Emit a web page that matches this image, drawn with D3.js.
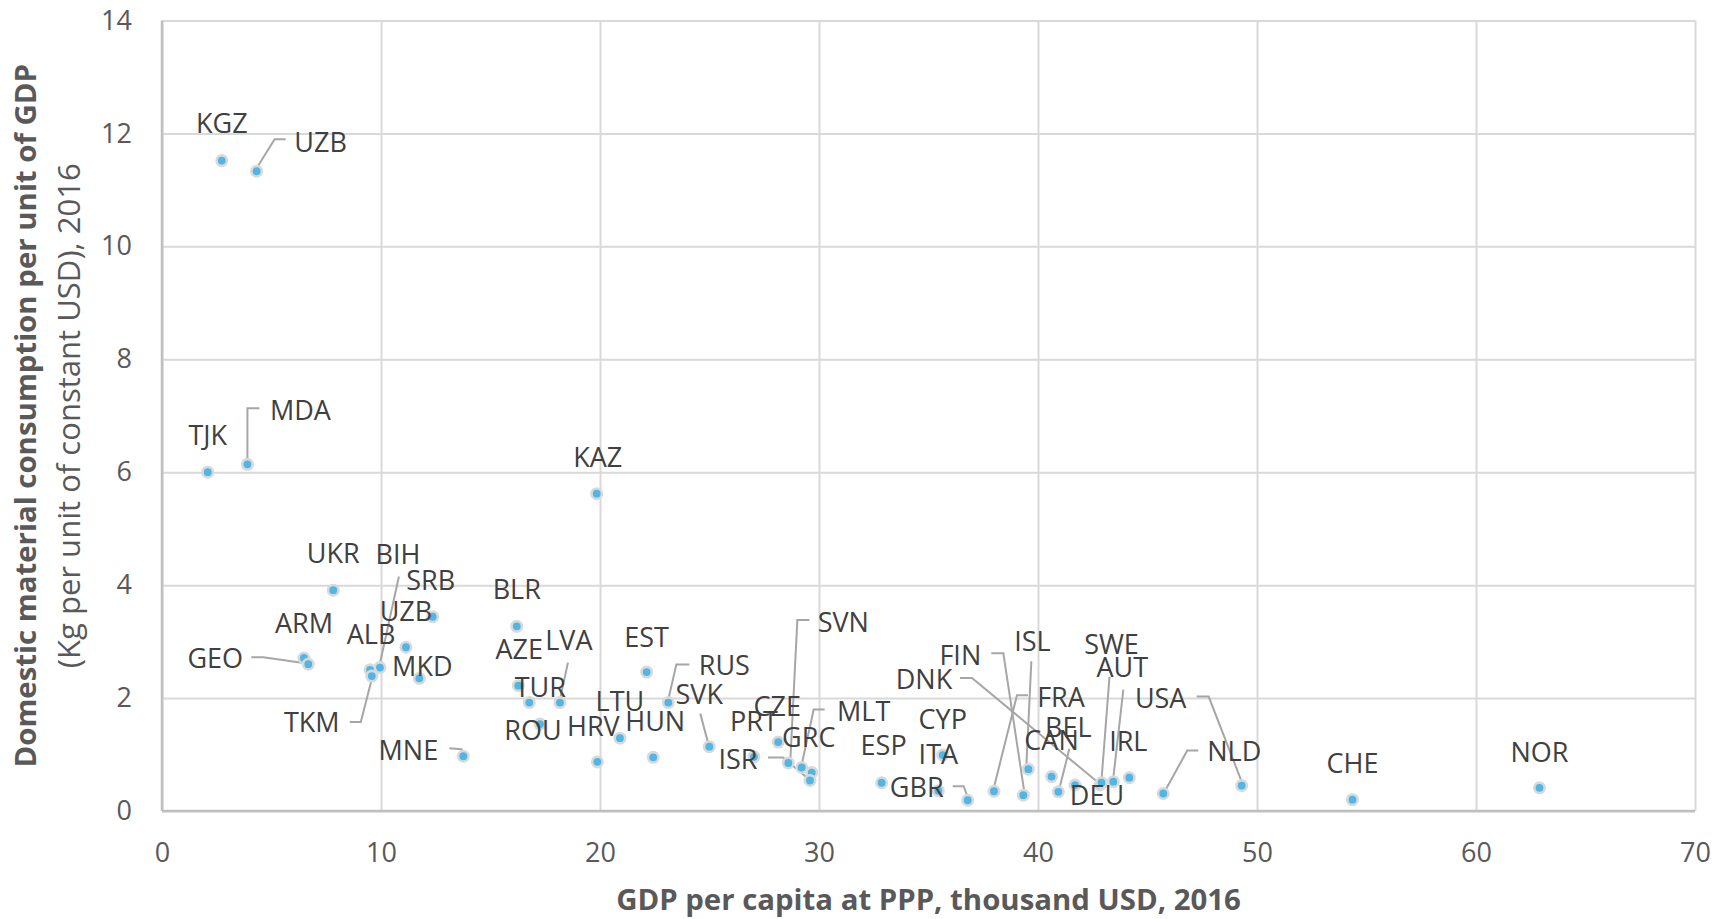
<!DOCTYPE html>
<html><head><meta charset="utf-8">
<script src="https://cdn.jsdelivr.net/npm/d3@7/dist/d3.min.js"></script>
<style>
body{margin:0;background:#fff;}
svg text{font-family:"Open Sans","DejaVu Sans",sans-serif;}
</style>
</head><body>
<svg id="chart" width="1726" height="919"></svg>
<script>
// ---------------- data ----------------
const countries = ["KGZ","UZB","TJK","MDA","KAZ","UKR","BIH","SRB","UZB","ARM","ALB","GEO","MKD","TKM","MNE","BLR","AZE","LVA","TUR","ROU","EST","LTU","HRV","HUN","RUS","SVK","CZE","PRT","SVN","MLT","GRC","ISR","ESP","CYP","ITA","GBR","FIN","DNK","ISL","FRA","CAN","BEL","DEU","SWE","AUT","IRL","USA","NLD","CHE","NOR"];
// GDP per capita at PPP, thousand USD, 2016
const gdpPerCapita = [2.73,4.32,2.09,3.90,19.85,7.82,9.95,12.36,11.14,6.48,9.50,6.68,11.75,9.58,13.76,16.20,16.27,18.17,16.77,17.26,22.13,20.91,19.88,22.43,23.12,24.99,28.14,27.03,28.60,29.21,29.67,29.59,32.86,35.65,35.45,36.79,39.33,42.83,39.56,37.99,40.62,40.93,41.69,42.90,43.44,44.17,49.30,45.72,54.36,62.90];
// Domestic material consumption per unit of GDP (kg per USD), 2016
const dmcPerGdp = [11.52,11.33,6.00,6.14,5.62,3.91,2.54,3.44,2.90,2.71,2.50,2.60,2.35,2.39,0.97,3.27,2.22,1.92,1.92,1.54,2.46,1.29,0.87,0.95,1.92,1.14,1.22,0.96,0.85,0.77,0.68,0.54,0.50,0.99,0.36,0.19,0.28,0.46,0.74,0.35,0.61,0.34,0.46,0.50,0.52,0.59,0.45,0.31,0.20,0.41];
const xTicks = [0,10,20,30,40,50,60,70];
const yTicks = [0,2,4,6,8,10,12,14];
const xTitle = "GDP per capita at PPP, thousand USD, 2016";
const yTitle1 = "Domestic material consumption per unit of GDP";
const yTitle2 = "(Kg per unit of constant USD), 2016";

// ---------------- label layout (pixel offsets from each point) ----------------
const labelLayout = [
 {d:[0,-37]},
 {d:[64,-29], lead:[[29,-32],[18,-32],[0,-3]]},
 {d:[0,-37]},
 {d:[53,-54], lead:[[12,-56],[0,-56],[0,-4]]},
 {d:[1,-36]},
 {d:[0,-37]},
 {d:[18,-113], lead:[[19,-91],[0,-4]]},
 {d:[-2,-36]},
 {d:[0,-36]},
 {d:[0,-35]},
 {d:[1,-36]},
 {d:[-93,-6], lead:[[-57,-7],[-45,-7],[-3,-1]]},
 {d:[3,-12]},
 {d:[-60,46], lead:[[-22,46],[-11,46],[0,3]]},
 {d:[-55,-6], lead:[[-14,-8],[-2,-7],[0,-3]]},
 {d:[0,-37]},
 {d:[1,-36]},
 {d:[9,-62], lead:[[8,-40],[0,-3]]},
 {d:[11,-15]},
 {d:[-7,6]},
 {d:[0,-35]},
 {d:[0,-37]},
 {d:[-4,-36]},
 {d:[2,-36]},
 {d:[56,-37], lead:[[21,-38],[8,-38],[0,-3]]},
 {d:[-10,-52], lead:[[-9,-33],[-1,-3]]},
 {d:[-1,-36]},
 {d:[0,-36]},
 {d:[55,-141], lead:[[21,-143],[9,-143],[2,-3]]},
 {d:[62,-56], lead:[[23,-58],[12,-58],[0,-3]]},
 {d:[-3,-35]},
 {d:[-72,-21], lead:[[-42,-23],[-27,-23],[-2,-2]]},
 {d:[2,-37]},
 {d:[0,-36]},
 {d:[0,-36]},
 {d:[-51,-13], lead:[[-15,-14],[-4,-14],[0,-3]]},
 {d:[-63,-140], lead:[[-32,-142],[-20,-142],[1,-3]]},
 {d:[-176,-106], lead:[[-140,-107],[-128,-107],[0,-1]]},
 {d:[4,-128], lead:[[3,-108],[-2,-4]]},
 {d:[67,-94], lead:[[34,-96],[23,-96],[0,-4]]},
 {d:[0,-36]},
 {d:[10,-65], lead:[[11,-43],[1,-3]]},
 {d:[22,10]},
 {d:[10,-138], lead:[[8,-106],[0,-3]]},
 {d:[9,-114], lead:[[10,-92],[0,-4]]},
 {d:[-1,-36]},
 {d:[-81,-87], lead:[[-45,-89],[-33,-89],[0,-4]]},
 {d:[71,-42], lead:[[35,-43],[24,-43],[2,-3]]},
 {d:[0,-36]},
 {d:[0,-36]}
];

// ---------------- chart ----------------
const W = 1726, H = 919;
const margin = {left:162, right:31, top:20.5, bottom:108};
const pw = W - margin.left - margin.right;
const ph = H - margin.top - margin.bottom;

const svg = d3.select("#chart");
const g = svg.append("g").attr("transform", `translate(${margin.left},${margin.top})`);

const x = d3.scaleLinear().domain([0,70]).range([0,pw]);
const y = d3.scaleLinear().domain([0,14]).range([ph,0]);

const gridColor = "#d9d9d9";
const tickColor = "#595959";

// y axis + horizontal gridlines
const yAxisG = g.append("g")
  .call(d3.axisLeft(y).tickValues(yTicks).tickSize(-pw).tickPadding(30).tickFormat(d3.format("d")));
yAxisG.select(".domain").remove();
yAxisG.selectAll(".tick line").attr("stroke", gridColor).attr("stroke-width", 2);
yAxisG.selectAll(".tick text").attr("fill", tickColor).style("font-size","27px");

// x axis + vertical gridlines
const xAxisG = g.append("g").attr("transform", `translate(0,${ph})`)
  .call(d3.axisBottom(x).tickValues(xTicks).tickSize(-ph).tickPadding(32).tickFormat(d3.format("d")));
xAxisG.select(".domain").remove();
xAxisG.selectAll(".tick line").attr("stroke", gridColor).attr("stroke-width", 2);
xAxisG.selectAll(".tick text").attr("fill", tickColor).style("font-size","27px");

// axis lines (left & bottom)
g.append("line").attr("x1",0).attr("x2",0).attr("y1",0).attr("y2",ph)
  .attr("stroke","#bfbfbf").attr("stroke-width",2.5);
g.append("line").attr("x1",0).attr("x2",pw).attr("y1",ph).attr("y2",ph)
  .attr("stroke","#bfbfbf").attr("stroke-width",2.5);

const pts = countries.map((c,i)=>({c, x:gdpPerCapita[i], y:dmcPerGdp[i], lay:labelLayout[i]}));

// leader lines
const line = d3.line();
g.append("g").selectAll("path").data(pts.filter(p=>p.lay.lead)).join("path")
  .attr("d", p => line(p.lay.lead.map(o=>[x(p.x)+o[0], y(p.y)+o[1]])))
  .attr("fill","none").attr("stroke","#a6a6a6").attr("stroke-width",2);

// markers
g.append("g").selectAll("circle").data(pts).join("circle")
  .attr("cx", p=>x(p.x)).attr("cy", p=>y(p.y)).attr("r",5.2)
  .attr("fill","#4fb6e6").attr("stroke","#d9d9d9").attr("stroke-width",2.6);

// labels
g.append("g").selectAll("text").data(pts).join("text")
  .attr("x", p=>x(p.x)+p.lay.d[0]).attr("y", p=>y(p.y)+p.lay.d[1])
  .attr("dy","0.36em").attr("text-anchor","middle")
  .attr("fill","#404040").style("font-size","27px")
  .text(p=>p.c);

function fit(sel, target){
  const base = parseFloat(sel.style("font-size"));
  const w = sel.node().getComputedTextLength();
  if (w>0) sel.style("font-size", (base*target/w).toFixed(2)+"px");
}

// axis titles
const xt = svg.append("text").attr("x", margin.left + pw/2).attr("y", 910)
  .attr("text-anchor","middle").attr("fill",tickColor).style("font-weight","bold").style("font-size","26px")
  .text(xTitle);
fit(xt, 625);

const yt1 = svg.append("text").attr("transform", `translate(36,${margin.top+ph/2}) rotate(-90)`)
  .attr("text-anchor","middle").attr("fill",tickColor).style("font-weight","bold").style("font-size","26px")
  .text(yTitle1);
fit(yt1, 704);
const yt2 = svg.append("text").attr("transform", `translate(80,${margin.top+ph/2}) rotate(-90)`)
  .attr("text-anchor","middle").attr("fill",tickColor).style("font-size","26px")
  .text(yTitle2);
fit(yt2, 505);
</script>
</body></html>
